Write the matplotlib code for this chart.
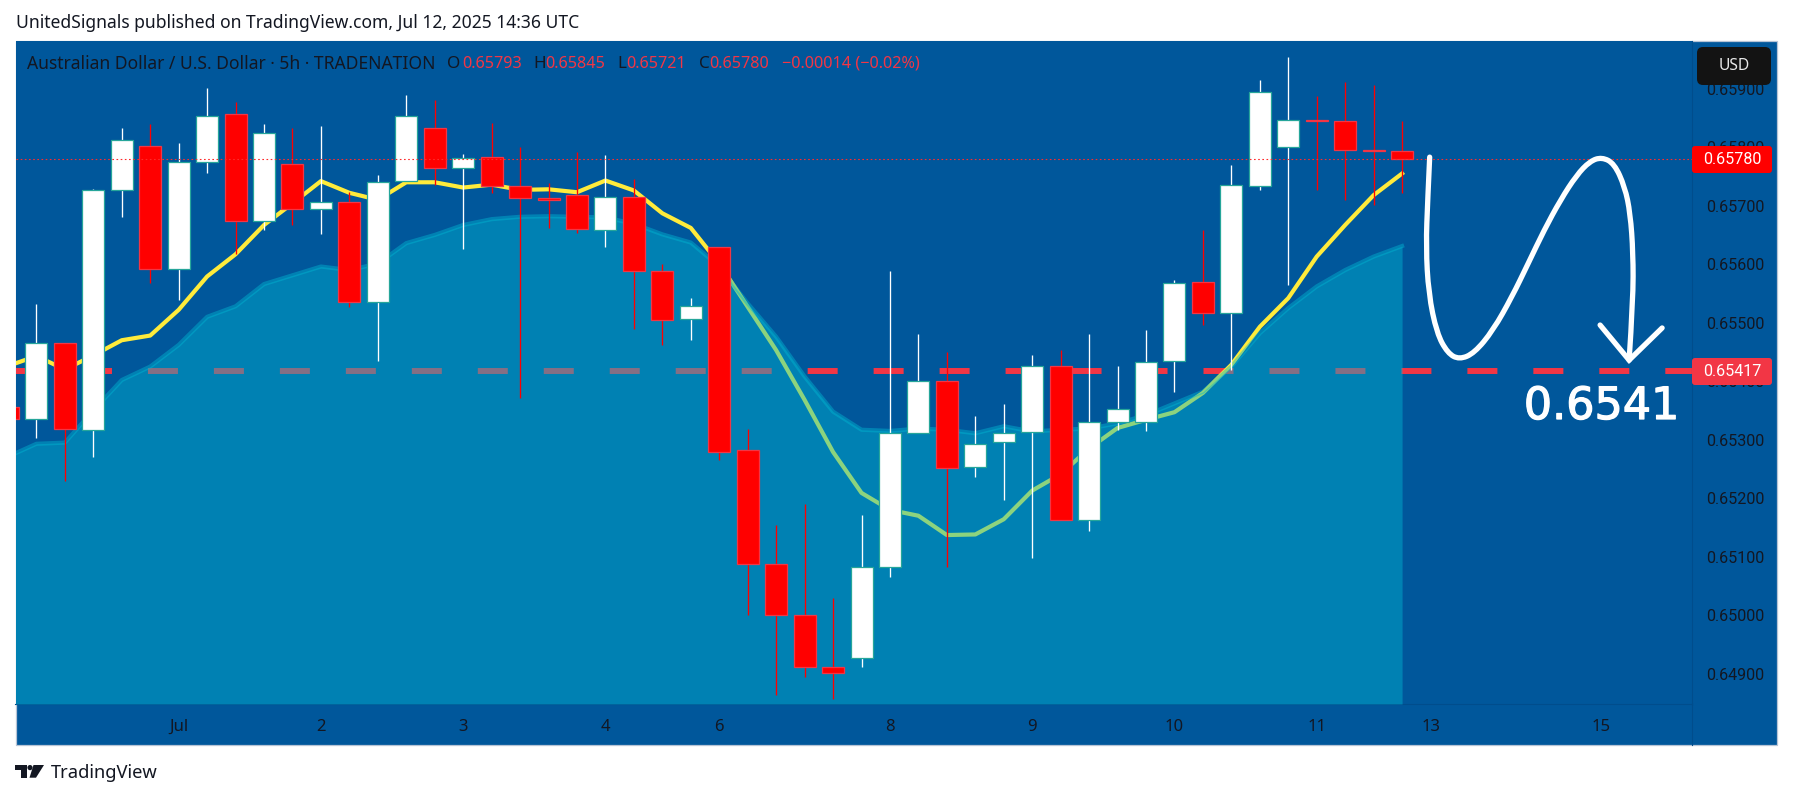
import numpy as np
import matplotlib
matplotlib.use("Agg")
import matplotlib.pyplot as plt
from matplotlib.patches import Rectangle, Polygon, Circle, FancyBboxPatch, PathPatch
from matplotlib.path import Path
import matplotlib.patheffects as pe

plt.rcParams['lines.scale_dashes'] = False
FONT = 'Noto Sans'
plt.rcParams['font.family'] = [FONT, 'DejaVu Sans']

W, H = 1793, 799
# Prices are in units of 0.00001
candle_index = list(range(-1, 49))
opens = [65356,65336,65466,65316,65726,65802,65591,65774,65856,65673,65771,65695,65707,65536,65742,65832,65764,65784,65733,65713,
         65718,65658,65714,65588,65506,65629,65282,65087,65000,64911,64927,65082,65311,65401,65253,65296,65313,65426,65163,65331,
         65331,65434,65569,65516,65733,65800,65846,65845,65796,65793]
highs = [65356,65532,65466,65728,65833,65840,65807,65902,65877,65840,65833,65836,65723,65752,65889,65881,65788,65841,65801,65739,
         65792,65787,65745,65601,65542,65629,65319,65154,65190,65030,65171,65588,65481,65450,65340,65361,65445,65453,65481,65426,
         65487,65573,65658,65770,65915,65955,65887,65912,65906,65845]
lows = [65336,65303,65230,65271,65681,65567,65539,65756,65617,65658,65667,65652,65526,65435,65742,65735,65626,65721,65372,65662,
        65653,65630,65489,65462,65470,65265,65000,64864,64895,64856,64911,65066,65311,65083,65237,65197,65097,65162,65144,65316,
        65315,65382,65496,65419,65726,65564,65726,65709,65701,65721]
closes = [65336,65466,65318,65726,65813,65591,65774,65854,65673,65825,65695,65706,65536,65740,65853,65764,65782,65733,65713,65709,
          65660,65714,65588,65504,65529,65279,65087,65000,64911,64901,65082,65312,65401,65251,65292,65311,65426,65162,65331,65352,
          65432,65567,65516,65735,65895,65846,65844,65796,65793,65780]
fast_ema = [65426,65443,65420,65444,65470,65478,65522,65579,65617,65667,65704,65742,65722,65710,65740,65740,65731,65736,65727,65728,
            65723,65743,65726,65687,65662,65601,65527,65453,65368,65279,65209,65180,65170,65137,65138,65164,65213,65241,65285,65320,
            65334,65347,65380,65428,65493,65542,65613,65667,65718,65755]
slow_ema = [65271,65293,65295,65350,65402,65425,65462,65510,65528,65566,65581,65596,65590,65601,65636,65650,65667,65677,65681,65682,
            65681,65680,65669,65651,65637,65596,65533,65476,65408,65348,65317,65315,65319,65317,65311,65323,65314,65317,65319,65328,
            65342,65362,65382,65425,65482,65525,65562,65590,65613,65631]
price_ticks = [0.659, 0.658, 0.657, 0.656, 0.655, 0.654, 0.653, 0.652, 0.651, 0.650, 0.649]
time_tick_pos = [5, 10, 15, 20, 24, 30, 35, 40, 45, 49, 55]
time_tick_labels = ['Jul', '2', '3', '4', '6', '8', '9', '10', '11', '13', '15']
last_price = 0.65780
target_price = 0.65417
sketch_x = [48.97,48.90,48.84,48.93,49.22,49.60,50.01,50.54,51.20,51.86,52.43,52.99,53.57,54.13,54.60,55.02,55.46,55.83,56.02,56.12,56.12,55.98]
sketch_y = [65783,65710,65630,65550,65482,65448,65437,65448,65487,65544,65601,65658,65710,65752,65776,65783,65772,65732,65687,65619,65539,65436]
head_x = [54.96, 55.98, 57.14]
head_y = [65496, 65436, 65491]

BG = '#00579B'
DARK = '#131722'
AREA = (0/255, 182/255, 210/255)
DASH = '#F23645'

def P(v):
    return np.asarray(v, float) / 1e5

fig = plt.figure(figsize=(W/100, H/100), dpi=100, facecolor='white')
def X(px): return px / W
def Y(py): return 1 - py / H

fig.add_artist(Rectangle((X(15.5), Y(745)), X(1777-15.5), (745-41)/H, facecolor=BG, edgecolor='#B7C4D6', lw=0.9, zorder=0))

ax = fig.add_axes([X(15.5), Y(704), X(1692-15.5), (704-41)/H], zorder=1)
ax.set_facecolor(BG)
ax.set_xlim(-0.735, 58.19)
ax.set_ylim(0.648482, 0.659815)
for s in ax.spines.values():
    s.set_visible(False)
ax.spines['bottom'].set_visible(True); ax.spines['bottom'].set_color('#004D8C'); ax.spines['bottom'].set_linewidth(0.8)
ax.spines['right'].set_visible(True); ax.spines['right'].set_color('#004D8C'); ax.spines['right'].set_linewidth(0.8)
fig.add_artist(plt.Line2D([X(1692)]*2, [Y(704), Y(745)], color='#004D8C', lw=0.8, zorder=2))

xs = np.array(candle_index, float)
o, h, l, c = P(opens), P(highs), P(lows), P(closes)
up = c >= o

ax.axhline(target_price, color=DASH, lw=4.3, linestyle=(0, (21.6, 25.9)), dash_capstyle='butt', zorder=1)
ax.plot(xs, P(fast_ema), color='#FFEB3B', lw=3.0, zorder=2, solid_joinstyle='round')
ax.plot(xs, P(slow_ema), color=AREA, alpha=0.45, lw=3.0, zorder=3, solid_joinstyle='round')
ax.fill_between(xs, P(slow_ema), 0.648482, color=AREA, alpha=0.45, lw=0, zorder=3)

ax.vlines(xs[up], l[up], h[up], color='white', lw=0.95, zorder=4)
ax.vlines(xs[~up], l[~up], h[~up], color='#FF0000', lw=0.95, zorder=4)
bw = 22 / 28.45
ax.bar(xs[up], (c-o)[up], bottom=o[up], width=bw, facecolor='white', edgecolor='#26A69A', lw=0.9, zorder=5)
ax.bar(xs[~up], (c-o)[~up], bottom=o[~up], width=bw, facecolor='#FF0000', edgecolor='#F23645', lw=0.9, zorder=5)

ax.axhline(last_price, color='#FF2A2A', lw=0.8, linestyle=(0, (1.2, 1.8)), zorder=6)

# hand-drawn sketch: the read points are used as control points of a smooth path
sx, sy = np.asarray(sketch_x), P(sketch_y)
verts = [(sx[0], sy[0])]
codes = [Path.MOVETO]
for i in range(1, len(sx) - 1):
    verts.append((sx[i], sy[i]))
    codes.append(Path.CURVE3)
    end = ((sx[i] + sx[i+1]) / 2, (sy[i] + sy[i+1]) / 2) if i < len(sx) - 2 else (sx[i+1], sy[i+1])
    verts.append(end)
    codes.append(Path.CURVE3)
ax.add_patch(PathPatch(Path(verts, codes), fc='none', ec='white', lw=3.8, capstyle='round', joinstyle='round', zorder=7))
ax.plot(head_x, P(head_y), color='white', lw=3.8, solid_capstyle='round', solid_joinstyle='miter', zorder=7)

ax.yaxis.tick_right()
ax.set_yticks(price_ticks)
ax.set_yticklabels([f'{t:.5f}' for t in price_ticks], color=DARK, fontsize=11.6, family='Roboto')
ax.tick_params(axis='y', length=0, pad=10)
ax.set_xticks(time_tick_pos)
ax.set_xticklabels(time_tick_labels, color=DARK, fontsize=12)
ax.tick_params(axis='x', length=0, pad=11)

ax2 = fig.add_axes([0, 0, 1, 1], zorder=3)
ax2.set_xlim(0, W); ax2.set_ylim(H, 0); ax2.axis('off')
ax2.patch.set_alpha(0)
ax2.text(1601.5, 419, '0.6541', color='white', family='DejaVu Sans', fontsize=32, ha='center', va='baseline', zorder=7,
         path_effects=[pe.withStroke(linewidth=0.9, foreground='white')])

def box(x0, y0, x1, y1, fc, txt):
    ax2.add_patch(FancyBboxPatch((x0+2, y0+2), x1-x0-4, y1-y0-4, boxstyle='round,pad=2,rounding_size=3', fc=fc, ec='none'))
    ax2.text((x0+x1)/2, (y0+y1)/2, txt, color='white', ha='center', va='center', fontsize=11.6, family='Roboto')
box(1692, 146, 1772, 173, '#FF0000', '0.65780')
box(1692, 358, 1772, 385, '#F23645', '0.65417')
ax2.add_patch(FancyBboxPatch((1701, 51), 66, 30, boxstyle='round,pad=4,rounding_size=6', fc='#131313', ec='none'))
ax2.text(1734, 66, 'USD', color='#E8E8E8', ha='center', va='center', fontsize=11.3)

ax2.text(15.5, 23, 'UnitedSignals published on TradingView.com, Jul 12, 2025 14:36 UTC', color=DARK, fontsize=12.6, ha='left', va='center')
leg_y = 64
ax2.text(27, leg_y, 'Australian Dollar / U.S. Dollar · 5h · TRADENATION', color=DARK, fontsize=12.6, ha='left', va='center')
for x, t, col, fs in [(447,'O',DARK,12.3),(462,'0.65793',DASH,11.7),(533,'H',DARK,12.3),(545,'0.65845',DASH,11.7),(617.6,'L',DARK,12.3),(626,'0.65721',DASH,11.7),
                  (699,'C',DARK,12.3),(709,'0.65780',DASH,11.7),(782,'−0.00014 (−0.02%)',DASH,11.7)]:
    ax2.text(x, leg_y, t, color=col, fontsize=fs, ha='left', va='center')

ax2.add_patch(Polygon([(15.3,765),(26.8,765),(26.8,777.7),(20.7,777.7),(20.7,770),(15.3,770)], fc=DARK, ec='none'))
ax2.add_patch(Circle((30,767.6), 2.6, fc=DARK, ec='none'))
ax2.add_patch(Polygon([(33.5,765),(44,765),(36,777.7),(29.5,777.7)], fc=DARK, ec='none'))
ax2.text(51, 773, 'TradingView', color=DARK, fontsize=13.2, ha='left', va='center')

fig.savefig('out.png', dpi=100, facecolor='white')
